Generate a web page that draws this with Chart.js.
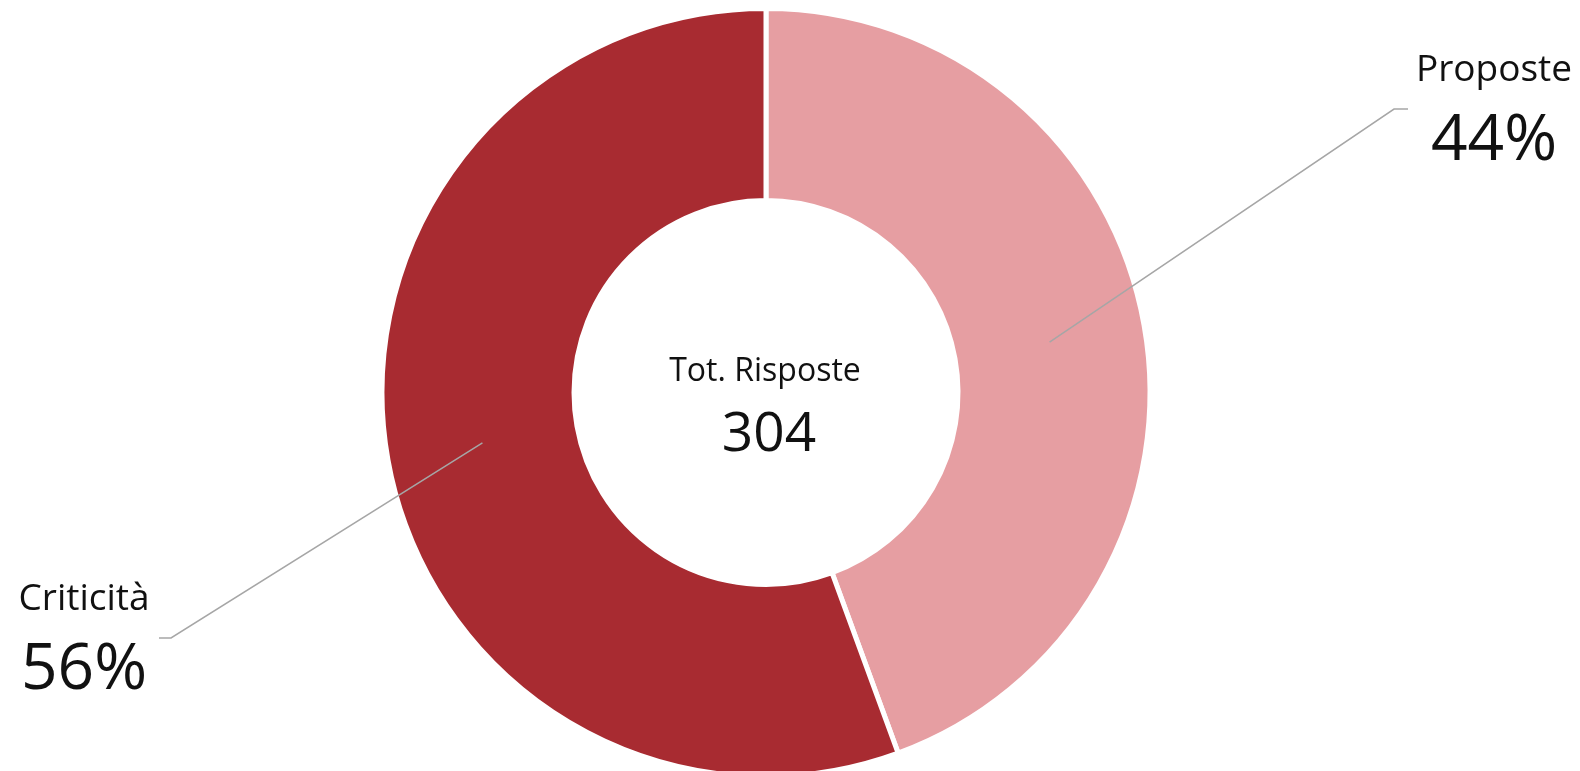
<!DOCTYPE html>
<html>
<head>
<meta charset="utf-8">
<script src="https://cdn.jsdelivr.net/npm/chart.js@4"></script>
<style>
  html, body { margin: 0; padding: 0; background: #fff; overflow: hidden; }
  #wrap { width: 1580px; height: 771px; overflow: hidden; }
</style>
</head>
<body>
<div id="wrap"><canvas id="grafico" width="1580" height="779"></canvas></div>
<script>
// Dati
const categorie = ["Proposte", "Criticità"];
const risposte = [135, 169];
const colori = ["#e69ea2", "#a82b31"];
const titoloCentro = "Tot. Risposte";

// Posizione delle etichette (rispetto al punto medio dell'arco, in raggi)
const layoutEtichette = [
  {dx: 0.897, dy: -0.607, coda: 14, testoX: 86},
  {dx: -0.811, dy: 0.508, coda: -12, testoX: -75}
];

const totale = risposte.reduce((a, b) => a + b, 0);
const FONT = "'Open Sans', 'Noto Sans', sans-serif";

// Testo centrale + linee guida
const etichettePlugin = {
  id: "etichette",
  afterDatasetsDraw(chart) {
    const ctx = chart.ctx;
    const meta = chart.getDatasetMeta(0);
    const primo = meta.data[0];
    const cx = primo.x, cy = primo.y;
    const r = primo.outerRadius;

    ctx.save();
    ctx.fillStyle = "#111";
    ctx.textAlign = "center";
    ctx.textBaseline = "alphabetic";
    ctx.font = "32px " + FONT;
    ctx.fillText(titoloCentro, cx - 1, cy - 12);
    ctx.font = "55px " + FONT;
    ctx.fillText(String(totale), cx + 3, cy + 58);

    meta.data.forEach((arc, i) => {
      const p = arc.tooltipPosition();
      const l = layoutEtichette[i];
      const gx = p.x + l.dx * r;
      const gy = p.y + l.dy * r;
      ctx.strokeStyle = "#a6a6a6";
      ctx.lineWidth = 1.5;
      ctx.beginPath();
      ctx.moveTo(p.x, p.y);
      ctx.lineTo(gx, gy);
      ctx.lineTo(gx + l.coda, gy);
      ctx.stroke();

      const tx = gx + l.coda + l.testoX;
      const perc = Math.round(risposte[i] / totale * 100) + "%";
      ctx.fillStyle = "#111";
      ctx.font = "37px " + FONT;
      ctx.fillText(categorie[i], tx, gy - 28);
      ctx.font = "64px " + FONT;
      ctx.fillText(perc, tx, gy + 51);
    });
    ctx.restore();
  }
};

new Chart(document.getElementById("grafico").getContext("2d"), {
  type: "doughnut",
  data: {
    labels: categorie,
    datasets: [{
      data: risposte,
      backgroundColor: colori,
      borderColor: "#fff",
      borderWidth: 5,
      hoverBorderWidth: 5,
      hoverOffset: 0
    }]
  },
  options: {
    responsive: false,
    animation: false,
    cutout: "50%",
    layout: { padding: {left: 0, right: 48, top: 6, bottom: 0} },
    plugins: { legend: { display: false }, tooltip: { enabled: false } }
  },
  plugins: [etichettePlugin]
});
</script>
</body>
</html>
